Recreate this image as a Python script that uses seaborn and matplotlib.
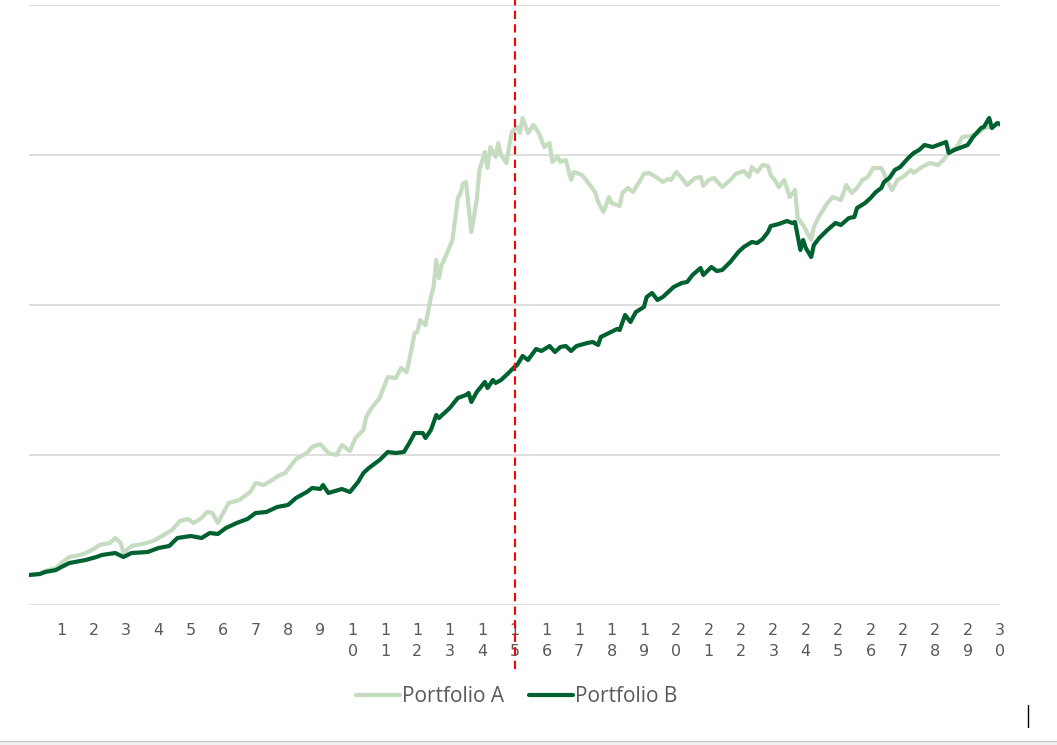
import pandas as pd
import matplotlib
matplotlib.use("Agg")
import matplotlib.pyplot as plt
import seaborn as sns
from matplotlib.lines import Line2D
from matplotlib.patches import Rectangle

# Portfolio values (month index, value)
months_a = [0, 4, 6, 10, 12, 15, 19, 21, 24, 26,
            30, 32, 34, 35, 38, 42, 46, 50, 53, 56,
            59, 61, 64, 66, 68, 70, 72, 74, 78, 82,
            84, 87, 89, 93, 95, 99, 103, 105, 108, 111,
            114, 116, 119, 121, 124, 125, 127, 130, 133, 136,
            138, 140, 141, 143, 144, 145, 147, 149, 150, 151,
            152, 153, 155, 157, 159, 160, 161, 162, 164, 166,
            167, 169, 170, 171, 173, 174, 175, 177, 178, 179,
            181, 182, 183, 185, 187, 189, 191, 193, 194, 196,
            197, 199, 201, 202, 205, 208, 210, 211, 213, 215,
            216, 219, 220, 222, 224, 225, 226, 228, 230, 233,
            235, 237, 238, 240, 242, 244, 247, 249, 250, 252,
            254, 257, 260, 262, 265, 267, 268, 270, 272, 274,
            275, 277, 278, 280, 282, 284, 285, 287, 290, 291,
            293, 296, 298, 301, 303, 305, 307, 309, 311, 313,
            316, 317, 318, 320, 322, 324, 327, 328, 331, 334,
            337, 339, 341, 344, 346, 349, 352, 354, 356, 359, 360]
values_a = [30, 31, 34, 37, 42, 48, 50, 52, 56, 60,
            62, 67, 62, 52, 59, 61, 64, 70, 75, 84,
            86, 82, 87, 93, 92, 82, 92, 102, 105, 113,
            122, 120, 123, 130, 132, 146, 152, 158, 161, 152,
            150, 160, 154, 167, 175, 188, 197, 207, 228, 227,
            237, 233, 245, 272, 273, 285, 280, 308, 318, 345,
            327, 340, 352, 365, 407, 412, 422, 423, 373, 405,
            435, 453, 437, 458, 448, 462, 450, 442, 458, 473,
            478, 472, 487, 472, 480, 472, 458, 462, 443, 448,
            443, 445, 425, 433, 430, 420, 412, 403, 393, 408,
            402, 399, 412, 417, 413, 418, 422, 431, 432, 427,
            423, 426, 425, 433, 427, 420, 427, 428, 419, 425,
            427, 418, 425, 431, 434, 428, 438, 433, 440, 439,
            430, 423, 418, 425, 408, 415, 387, 380, 365, 378,
            389, 402, 408, 405, 420, 412, 417, 425, 428, 437,
            437, 432, 425, 415, 425, 428, 435, 432, 438, 442,
            440, 445, 452, 458, 468, 469, 472, 477, 478, 480, 480]

months_b = [0, 4, 6, 10, 12, 15, 19, 21, 25, 27,
            32, 35, 38, 44, 48, 52, 55, 60, 64, 67,
            70, 73, 77, 81, 84, 88, 92, 96, 99, 103,
            105, 108, 109, 111, 116, 119, 122, 124, 126, 130,
            133, 136, 139, 141, 143, 146, 147, 149, 151, 152,
            156, 159, 162, 163, 164, 166, 169, 170, 172, 173,
            175, 177, 180, 181, 183, 185, 188, 190, 193, 195,
            197, 199, 201, 203, 207, 209, 211, 212, 215, 218,
            219, 221, 223, 225, 228, 229, 231, 233, 235, 237,
            239, 242, 244, 246, 249, 250, 253, 255, 257, 260,
            263, 265, 268, 270, 272, 274, 275, 278, 281, 283,
            284, 286, 287, 288, 290, 291, 293, 296, 299, 301,
            304, 306, 307, 310, 312, 314, 316, 317, 319, 321,
            323, 326, 328, 330, 332, 335, 337, 340, 341, 343,
            346, 348, 350, 353, 354, 356, 357, 359, 360]
values_b = [30, 31, 33, 35, 38, 42, 44, 45, 48, 50,
            52, 48, 52, 53, 57, 59, 67, 69, 67, 72,
            71, 77, 82, 86, 92, 93, 98, 100, 107, 113,
            117, 116, 120, 112, 116, 113, 123, 132, 137, 145,
            153, 152, 153, 162, 172, 172, 167, 175, 190, 187,
            197, 207, 210, 212, 203, 213, 223, 217, 225, 222,
            225, 230, 238, 240, 249, 245, 256, 254, 259, 253,
            258, 259, 254, 259, 262, 263, 260, 268, 272, 276,
            275, 290, 283, 293, 298, 308, 312, 305, 308, 313,
            318, 322, 323, 330, 337, 330, 338, 334, 335, 343,
            353, 358, 363, 362, 366, 373, 379, 381, 384, 382,
            383, 355, 365, 357, 348, 360, 367, 375, 382, 380,
            387, 388, 397, 402, 407, 413, 417, 423, 427, 435,
            438, 447, 452, 455, 460, 458, 460, 463, 452, 455,
            458, 460, 468, 477, 478, 487, 477, 482, 481]

years = list(range(1, 31))
year_labels = ["\n".join(str(y)) for y in years]
split_year = 15
grid_values = [0, 150, 300, 450, 600]

df = pd.concat([
    pd.DataFrame({"year": [m / 12 for m in months_a], "value": values_a, "portfolio": "Portfolio A"}),
    pd.DataFrame({"year": [m / 12 for m in months_b], "value": values_b, "portfolio": "Portfolio B"}),
])

sns.set_style("white")
plt.rcParams["font.family"] = ["Open Sans", "DejaVu Sans"]

fig = plt.figure(figsize=(10.57, 7.45), dpi=100)
ax = fig.add_axes([29 / 1057, 1 - 605 / 745, 971 / 1057, 600 / 745])

palette = {"Portfolio A": "#c5dcc0", "Portfolio B": "#006130"}
sns.lineplot(data=df, x="year", y="value", hue="portfolio", palette=palette,
             linewidth=3.0, ax=ax, estimator=None, sort=True)

ax.axvline(split_year, ymin=-0.107, ymax=1.01, color="#ff0000", linestyle=(0, (4, 2.5)),
           linewidth=1.5, clip_on=False, zorder=5)

ax.set_xlim(0, 30)
ax.set_ylim(0, 600)
ax.set_yticks(grid_values)
ax.set_yticklabels([])
ax.set_xticks(years)
ax.set_xticklabels(year_labels, fontsize=11.5, color="#595959", linespacing=1.5,
                   family="DejaVu Sans")
ax.tick_params(axis="x", length=0, pad=13)
ax.tick_params(axis="y", length=0)
ax.grid(axis="y", color="#d9d9d9", linewidth=1.2)
ax.grid(axis="x", visible=False)
ax.set_axisbelow(True)
for s in ax.spines.values():
    s.set_visible(False)
ax.set_xlabel("")
ax.set_ylabel("")

handles, labels = ax.get_legend_handles_labels()
leg = ax.legend(handles, labels, loc="center", bbox_to_anchor=(0.5026, -0.153), ncol=2,
                frameon=False, fontsize=15, handlelength=2.1, handletextpad=0.1,
                columnspacing=1.2, labelcolor="#595959")
for line in leg.get_lines():
    line.set_linewidth(3)

# bottom window strip and cursor
fig.patches.append(Rectangle((0, 0), 1, 4 / 745, transform=fig.transFigure,
                             facecolor="#f0f0f0", edgecolor="none"))
fig.add_artist(Line2D([0, 1], [4 / 745, 4 / 745], transform=fig.transFigure,
                      color="#c8c8c8", linewidth=1))
fig.add_artist(Line2D([1028 / 1057, 1028 / 1057], [18 / 745, 40 / 745],
                      transform=fig.transFigure, color="black", linewidth=1))

fig.savefig("out.png", dpi=100)
